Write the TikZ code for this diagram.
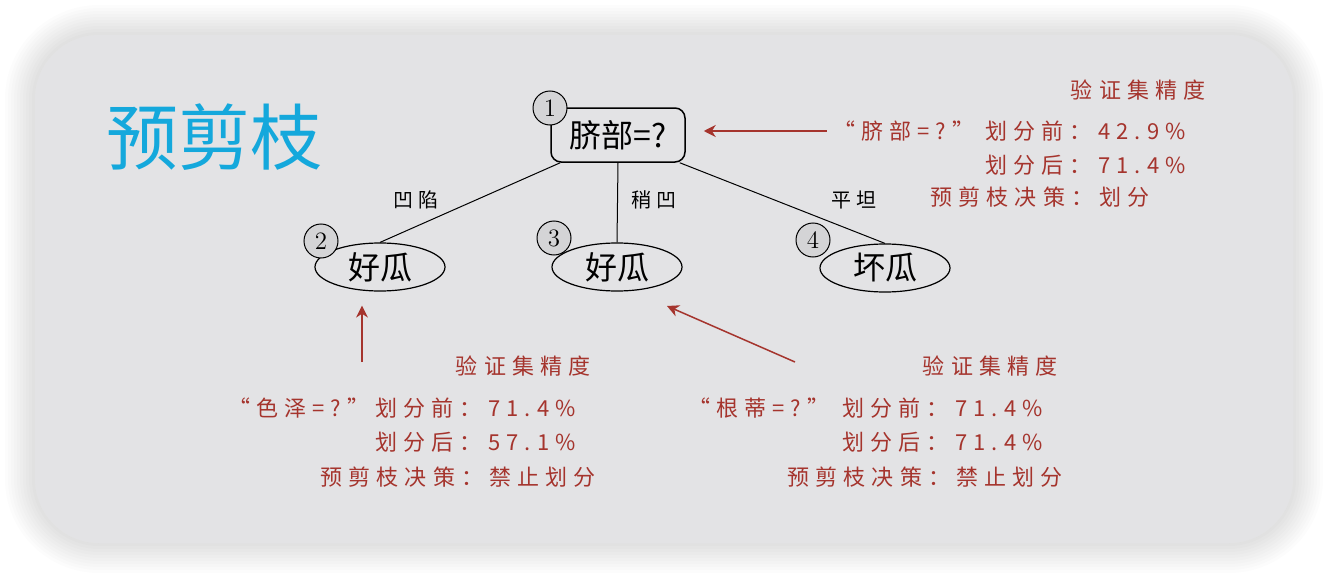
\documentclass[tikz,border=0pt]{standalone}
\usepackage{fontspec}
\usetikzlibrary{shapes.geometric,arrows.meta}
\newfontfamily\cjk{Noto Sans CJK SC}
\newfontfamily\cjkwide[LetterSpace=28]{Noto Sans CJK SC}
\definecolor{panelgray}{RGB}{227,227,229}
\definecolor{dotgray}{RGB}{212,212,214}
\definecolor{notered}{RGB}{165,52,45}
\definecolor{titlecyan}{RGB}{20,168,220}
\tikzset{
  rootbox/.style={draw, line width=0.75pt, rounded corners=5pt, fill=panelgray,
    minimum width=67pt, minimum height=27pt, inner sep=0pt,
    font=\cjk\fontsize{16}{16}\selectfont},
  leaf/.style={ellipse, draw, line width=0.6pt, fill=panelgray,
    minimum width=65pt, minimum height=24pt, inner sep=0pt,
    font=\cjk\fontsize{16}{16}\selectfont},
  numdot/.style={circle, draw, line width=0.5pt, fill=dotgray,
    minimum size=17pt, inner sep=0pt, font=\fontsize{12.5}{12.5}\selectfont},
  edgelabel/.style={inner sep=0pt, font=\cjkwide\fontsize{10}{10}\selectfont},
  redtxt/.style={inner sep=0pt, text=notered, font=\cjkwide\fontsize{11}{11}\selectfont},
  redarrow/.style={draw=notered, line width=0.75pt, -{Stealth[length=6pt,width=6pt]}},
  branch/.style={draw, line width=0.5pt}
}
\begin{document}
\begin{tikzpicture}[x=0.5pt,y=-0.5pt]
    \useasboundingbox (0,0) rectangle (1330,578);
    % soft shadow and panel
    \foreach \k in {1,...,10}
        \fill[black, opacity=0.011, rounded corners=32pt+1.5pt*\k]
            (35-3*\k,35-3*\k) rectangle (1293+3*\k,543+3*\k);
    \fill[panelgray, rounded corners=32pt] (35,35) rectangle (1293,543);

    \node[text=titlecyan, inner sep=0pt, font=\cjk\fontsize{36}{36}\selectfont] (title) at (214,137) {预剪枝};

    % tree
    \node[rootbox] (root) at (618,135) {脐部=?};
    \node[leaf] (l2) at (380,267) {好瓜};
    \node[leaf] (l3) at (617,267) {好瓜};
    \node[leaf] (l4) at (885,268) {坏瓜};
    \draw[branch] ([xshift=5pt]root.south west) -- (l2.north);
    \draw[branch] (root.south) -- (l3.north);
    \draw[branch] ([xshift=-3pt]root.south east) -- (l4.north);
    \node[edgelabel] (e2) at (416,200) {凹陷};
    \node[edgelabel] (e3) at (654,200) {稍凹};
    \node[edgelabel] (e4) at (854,200) {平坦};
    \node[numdot] (n1) at (550,108) {1};
    \node[numdot] (n2) at (321,241) {2};
    \node[numdot] (n3) at (554,238) {3};
    \node[numdot] (n4) at (813,240) {4};

    % root split
    \node[redtxt, anchor=east] (h1) at (1206,90) {验证集精度};
    \node[redtxt, anchor=east] (q1) at (975,131) {“脐部=?”};
    \node[redtxt, anchor=west] (b1) at (985,131) {划分前：42.9\%};
    \node[redtxt, anchor=west] (a1) at (985,165) {划分后：71.4\%};
    \node[redtxt, anchor=west] (d1) at (930,197) {预剪枝决策：划分};
    \draw[redarrow, shorten >=9pt, shorten <=3pt] (q1.west) -- (q1.west -| root.east);

    % node 2
    \node[redtxt, anchor=east] (h2) at (591,366) {验证集精度};
    \node[redtxt, anchor=east] (q2) at (370,408) {“色泽=?”};
    \node[redtxt, anchor=west] (b2) at (375,408) {划分前：71.4\%};
    \node[redtxt, anchor=west] (a2) at (375,442) {划分后：57.1\%};
    \node[redtxt, anchor=west] (d2) at (320,477) {预剪枝决策：禁止划分};
    \coordinate (t2) at (362,362);
    \draw[redarrow, shorten >=7pt] (t2) -- (t2 |- l2.south);

    % node 3
    \node[redtxt, anchor=east] (h3) at (1058,366) {验证集精度};
    \node[redtxt, anchor=east] (q3) at (830,408) {“根蒂=?”};
    \node[redtxt, anchor=west] (b3) at (842,408) {划分前：71.4\%};
    \node[redtxt, anchor=west] (a3) at (842,442) {划分后：71.4\%};
    \node[redtxt, anchor=west] (d3) at (787,477) {预剪枝决策：禁止划分};
    \coordinate (t3) at (795,362);
    \coordinate (p3) at (667,306);
    \draw[redarrow] (t3) -- (p3);
\end{tikzpicture}
\end{document}
